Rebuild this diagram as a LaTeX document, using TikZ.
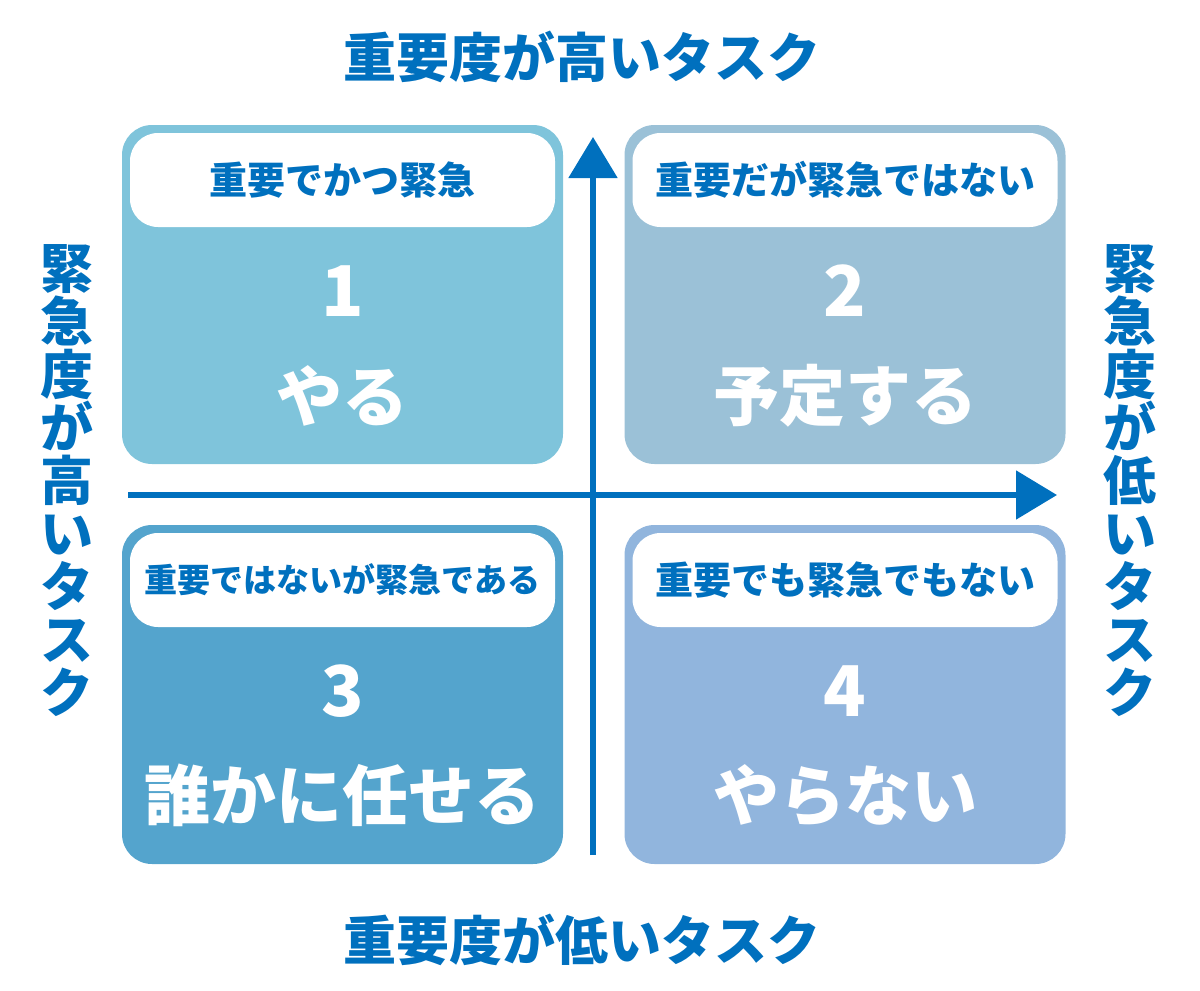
\documentclass[tikz,border=0pt]{standalone}
\usepackage{fontspec}
\newfontfamily\jp{Noto Sans CJK JP}
\usetikzlibrary{calc, positioning, arrows.meta}
\definecolor{axisblue}{HTML}{0070BE}
\definecolor{qone}{HTML}{7FC4DB}
\definecolor{qtwo}{HTML}{9BC1D7}
\definecolor{qthree}{HTML}{54A4CD}
\definecolor{qfour}{HTML}{91B5DD}

\begin{document}
\begin{tikzpicture}[x=0.5pt, y=-0.5pt,
  axis/.style={draw=axisblue, line width=2.65pt, -{Triangle[length=20.5pt, width=24pt]}}]
\useasboundingbox (0,0) rectangle (1200,991);

% quadrants
\begin{scope}[every node/.style={rounded corners=15pt, minimum width=220.5pt, minimum height=169.5pt, inner sep=0pt}]
\node [fill=qone]   (Q1) at (342.5,294.5) {};
\node [fill=qtwo]   (Q2) at (845,294.5)   {};
\node [fill=qthree] (Q3) at (342.5,694.5) {};
\node [fill=qfour]  (Q4) at (845,694.5)   {};
\end{scope}

% white tags on top of each quadrant
\begin{scope}[every node/.style={rounded corners=14pt, fill=white, minimum width=212.5pt, minimum height=47pt, inner sep=0pt,
              text=axisblue, font=\jp\bfseries\fontsize{19}{19}\selectfont}]
\node [below= 4pt of Q1.north] (T1) {重要でかつ緊急};
\node [below= 4pt of Q2.north] (T2) {重要だが緊急ではない};
\node [below= 4pt of Q3.north, font=\jp\bfseries\fontsize{16.5}{16.5}\selectfont] (T3) {重要ではないが緊急である};
\node [below= 4pt of Q4.north] (T4) {重要でも緊急でもない};
\end{scope}

% number and action
\begin{scope}[every node/.style={text=white, inner sep=0pt, font=\jp\bfseries\fontsize{35}{35}\selectfont},
              act/.style={font=\jp\bfseries\fontsize{33}{33}\selectfont}]
\node       (N1) at ($(Q1.north)+(0,166)$) {1};
\node [act] (A1) at ($(Q1.north)+(0,271)$) {やる};
\node       (N2) at ($(Q2.north)+(0,166)$) {2};
\node [act] (A2) at ($(Q2.north)+(0,271)$) {予定する};
\node       (N3) at ($(Q3.north)+(0,166)$) {3};
\node [act] (A3) at ($(Q3.north)+(0,271)$) {誰かに任せる};
\node       (N4) at ($(Q4.north)+(0,166)$) {4};
\node [act] (A4) at ($(Q4.north)+(0,271)$) {やらない};
\end{scope}

% axes
\coordinate (ybot) at (593,855);
\coordinate (ytop) at (593,137);
\coordinate (xl)   at (128,495);
\coordinate (xr)   at (1057,495);
\draw [axis] (ybot) -- (ytop);
\draw [axis] (xl) -- (xr);

% axis labels
\begin{scope}[every node/.style={text=axisblue, inner sep=0pt, font=\jp\bfseries\fontsize{26.5}{26.5}\selectfont}]
\node (top)    at (582,57)  {重要度が高いタスク};
\node (bottom) at (582,940) {重要度が低いタスク};
\node [align=center] (left)  at (67,481)   {緊\\急\\度\\が\\高\\い\\タ\\ス\\ク};
\node [align=center] (right) at (1130,481) {緊\\急\\度\\が\\低\\い\\タ\\ス\\ク};
\end{scope}

\end{tikzpicture}
\end{document}
